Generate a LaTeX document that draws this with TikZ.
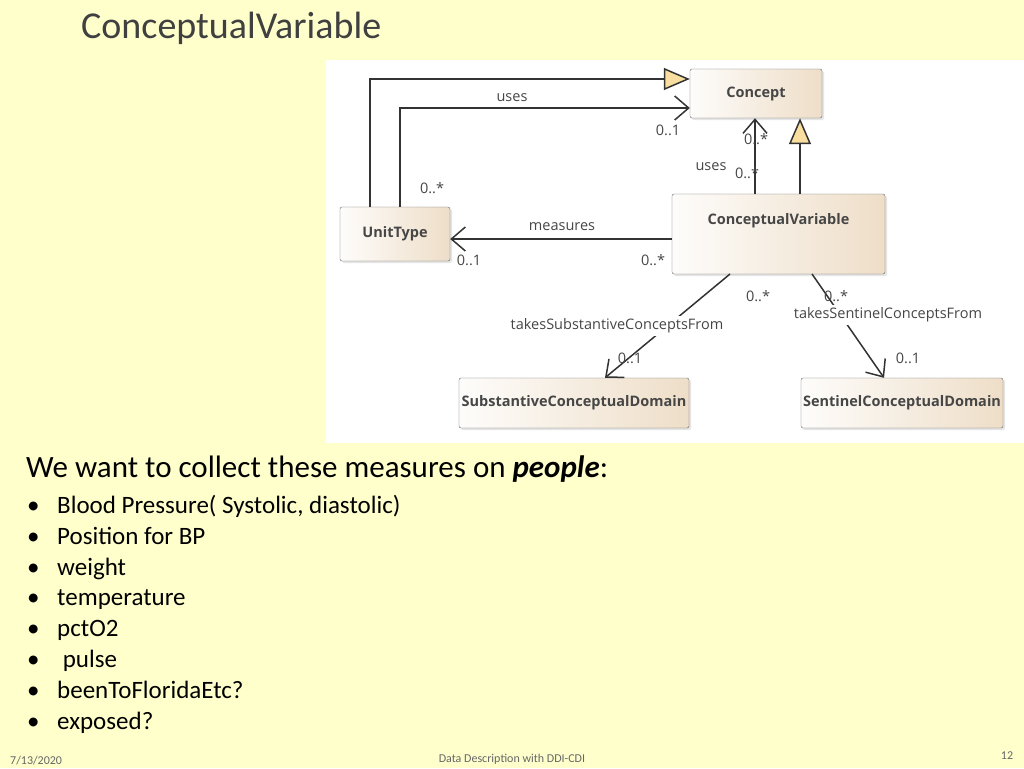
\documentclass[tikz,border=0pt]{standalone}
\usepackage{fontspec}
\setmainfont{Carlito}
\newfontfamily\umlfont{Open Sans}
\usetikzlibrary{arrows.meta, shadows}
\definecolor{slidebg}{RGB}{255,255,204}
\definecolor{boxtan}{RGB}{238,222,200}
\definecolor{gentan}{RGB}{250,222,160}
\definecolor{umltext}{RGB}{70,70,70}

\tikzset{
  umlbox/.style={draw=gray!80!black, rounded corners=2pt, left color=white!92!boxtan,
    right color=boxtan, drop shadow={shadow xshift=2pt, shadow yshift=-2pt, fill=gray!40},
    font=\umlfont\fontsize{14.5}{16}\selectfont\bfseries, text=umltext, inner sep=0pt},
  umllabel/.style={font=\umlfont\fontsize{14.5}{16}\selectfont, text=umltext, inner sep=1pt},
  gen/.style={-{Triangle[length=26pt,width=22pt,fill=gentan]}, line width=1.5pt, draw=black!80},
  assoc/.style={-{Straight Barb[length=14pt,width=24pt]}, line width=1.5pt, draw=black!80},
  bullet/.style={anchor=base west, font=\fontsize{25}{28}\selectfont, inner sep=0pt}
}

\begin{document}
\begin{tikzpicture}[x=1pt, y=-1pt]
  \fill[slidebg] (0,0) rectangle (1024,768);
  \useasboundingbox (0,0) rectangle (1024,768);
  \fill[white] (326,60) rectangle (1024,443);

  \node[anchor=west, font=\fontsize{38}{40}\selectfont, text=black!75, inner sep=0pt] (title) at (81,28) {ConceptualVariable};

  % classes
  \node[umlbox, minimum width=132pt, minimum height=49pt] (concept) at (756,93.5) {Concept};
  \node[umlbox, minimum width=110pt, minimum height=54pt] (unit) at (395,234) {UnitType};
  \node[umlbox, minimum width=213pt, minimum height=80pt] (cv) at (778.5,234) {};
  \node[font=\umlfont\fontsize{14.5}{16}\selectfont\bfseries, text=umltext] (cvname) at (778.5,221) {ConceptualVariable};
  \node[umlbox, minimum width=230pt, minimum height=50pt] (subst) at (574,403) {SubstantiveConceptualDomain};
  \node[umlbox, minimum width=202pt, minimum height=50pt] (sent) at (902,403) {SentinelConceptualDomain};

  % connector points
  \coordinate (ug) at (370,207);
  \coordinate (uu) at (400,207);
  \coordinate (cvu) at (755,194);
  \coordinate (cvg) at (800,194);
  \coordinate (cvs) at (730,274);
  \coordinate (cvt) at (812,274);
  \draw[gen] (ug) |- (concept.west |- 0,79);
  \draw[assoc] (uu) |- (concept.west |- 0,108);
  \draw[assoc] (cvu) -- (cvu |- concept.south);
  \draw[gen] (cvg) -- (cvg |- concept.south);
  \draw[assoc] (cv.west |- 0,239) -- (unit.east |- 0,239);
  \draw[assoc] (cvs) -- (subst.north -| 605,0);
  \draw[assoc] (cvt) -- (sent.north -| 884,0);

  % association labels
  \node[umllabel, fill=white, inner sep=3pt] (lsub) at (617,326) {takesSubstantiveConceptsFrom};
  \node[umllabel, fill=white, inner sep=3pt] (lsent) at (888,315) {takesSentinelConceptsFrom};
  \node[umllabel] (l1) at (512,98) {uses};
  \node[umllabel] (l2) at (668,130) {0..1};
  \node[umllabel] (l3) at (432,188) {0..*};
  \node[umllabel] (l4) at (711,167) {uses};
  \node[umllabel] (l5) at (756,139) {0..*};
  \node[umllabel] (l6) at (747,173) {0..*};
  \node[umllabel] (l7) at (562,227) {measures};
  \node[umllabel] (l8) at (469,260) {0..1};
  \node[umllabel] (l9) at (653,260) {0..*};
  \node[umllabel] (l10) at (758,296) {0..*};
  \node[umllabel] (l11) at (630,358) {0..1};
  \node[umllabel] (l12) at (836,296) {0..*};
  \node[umllabel] (l13) at (908,358) {0..1};

  % slide text
  \node[anchor=west, font=\fontsize{31}{34}\selectfont, inner sep=0pt] (head) at (26,469)
    {We want to collect these measures on \textbf{\textit{people}}:};
  \foreach \y/\t [count=\i] in {505/{Blood Pressure( Systolic, diastolic)}, 536/{Position for BP},
      567/weight, 597/temperature, 628/pctO2, 659/{\ pulse}, 690/beenToFloridaEtc?, 721/exposed?} {
    \node[bullet] (dot\i) at (27,\y+8) {\textbullet};
    \node[bullet] (item\i) at (57,\y+8) {\t};
  }

  \node[anchor=west, font=\fontsize{12}{14}\selectfont, text=black!60, inner sep=0pt] (date) at (10,761) {7/13/2020};
  \node[font=\fontsize{12}{14}\selectfont, text=black!60, inner sep=0pt] (footer) at (512,759) {Data Description with DDI-CDI};
  \node[font=\fontsize{12}{14}\selectfont, text=black!60, inner sep=0pt] (page) at (1007,756) {12};
\end{tikzpicture}
\end{document}
